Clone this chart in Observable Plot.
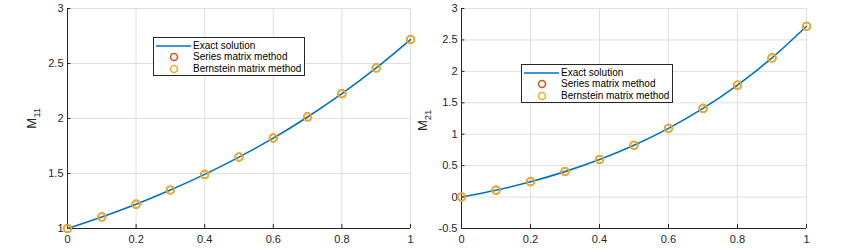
<!DOCTYPE html>
<html>
<head>
<meta charset="utf-8">
<script src="https://cdn.jsdelivr.net/npm/d3@7"></script>
<script src="https://cdn.jsdelivr.net/npm/@observablehq/plot@0.6"></script>
<style>
  body { margin: 0; background: #fff; }
  #wrap { position: relative; width: 852px; height: 250px; font-family: "Liberation Sans", Arial, sans-serif; }
  .panel { position: absolute; top: 0; }
  .ylab { position: absolute; font-family: "Liberation Sans", Arial, sans-serif; font-size: 13px; color: #262626; transform: rotate(-90deg); transform-origin: center; white-space: nowrap; line-height: 14px; }
  .ylab sub { font-family: "Liberation Sans", Arial, sans-serif; font-size: 9.5px; }
  .legend { position: absolute; border: 1px solid #262626; background: #fff; font-size: 10px; color: #000; box-sizing: border-box; font-family: "Liberation Sans", Arial, sans-serif; }
  .legend .row { position: absolute; left: 0; height: 12px; line-height: 12px; white-space: nowrap; }
</style>
</head>
<body>
<div id="wrap"></div>
<script>
// ---- data ----
const xs = [0, 0.1, 0.2, 0.3, 0.4, 0.5, 0.6, 0.7, 0.8, 0.9, 1];
const m11Exact = [1, 1.105, 1.221, 1.35, 1.492, 1.649, 1.822, 2.014, 2.226, 2.46, 2.718];
const m11Series = [1, 1.105, 1.221, 1.35, 1.492, 1.649, 1.822, 2.014, 2.226, 2.46, 2.718];
const m11Bernstein = [1, 1.105, 1.221, 1.35, 1.492, 1.649, 1.822, 2.014, 2.226, 2.46, 2.718];
const m21Exact = [0, 0.11, 0.244, 0.405, 0.597, 0.824, 1.093, 1.41, 1.781, 2.214, 2.718];
const m21Series = [0, 0.11, 0.244, 0.405, 0.597, 0.824, 1.093, 1.41, 1.781, 2.214, 2.718];
const m21Bernstein = [0, 0.11, 0.244, 0.405, 0.597, 0.824, 1.093, 1.41, 1.781, 2.214, 2.718];
const xTicks = [0, 0.2, 0.4, 0.6, 0.8, 1];
const y1Ticks = [1, 1.5, 2, 2.5, 3];
const y2Ticks = [-0.5, 0, 0.5, 1, 1.5, 2, 2.5, 3];
const legendLabels = ["Exact solution", "Series matrix method", "Bernstein matrix method"];
const colors = {exact: "#0072BD", series: "#D95319", bern: "#EDB120"};

const fmt = d => String(d);

function panel({left, width, marginLeft, marginRight, yDomain, yTicks, exact, series, bern}) {
  const rows = ys => xs.map((x, i) => ({x, y: ys[i]}));
  const ymin = yDomain[0];
  const p = Plot.plot({
    width, height: 250,
    marginLeft, marginRight, marginTop: 8, marginBottom: 22,
    style: {fontFamily: "Liberation Sans, Arial, sans-serif", fontSize: "11px", color: "#262626", background: "#fff"},
    x: {domain: [0, 1], ticks: xTicks, tickFormat: fmt, label: null, tickSize: 0, tickPadding: 7},
    y: {domain: yDomain, ticks: yTicks, tickFormat: fmt, label: null, tickSize: 0, tickPadding: 4},
    marks: [
      Plot.gridX(xTicks, {stroke: "#dfdfdf", strokeOpacity: 1}),
      Plot.gridY(yTicks, {stroke: "#dfdfdf", strokeOpacity: 1}),
      Plot.ruleX(xTicks, {y1: ymin, y2: ymin + (yDomain[1]-yDomain[0]) * 0.018, stroke: "#262626"}),
      Plot.ruleY(yTicks, {x1: 0, x2: 0.01, stroke: "#262626"}),
      Plot.ruleX([0], {stroke: "#262626", strokeWidth: 1}),
      Plot.ruleY([ymin], {stroke: "#262626", strokeWidth: 1}),
      Plot.line(rows(exact), {x: "x", y: "y", stroke: colors.exact, strokeWidth: 1.6, curve: "natural"}),
      Plot.dot(rows(series), {x: "x", y: "y", stroke: colors.series, r: 3.8, strokeWidth: 1.6, fill: "none"}),
      Plot.dot(rows(bern), {x: "x", y: "y", stroke: colors.bern, r: 3.8, strokeWidth: 1.6, fill: "none"})
    ]
  });
  p.classList.add("panel");
  p.style.left = left + "px";
  return p;
}

function legend(left, top) {
  const d = document.createElement("div");
  d.className = "legend";
  d.style.left = left + "px"; d.style.top = top + "px";
  d.style.width = "152px"; d.style.height = "39px";
  legendLabels.forEach((lab, i) => {
    const r = document.createElement("div");
    r.className = "row";
    r.style.top = (1.5 + i * 11.7) + "px";
    let sym;
    if (i === 0) sym = `<line x1="2" y1="6" x2="37" y2="6" stroke="${colors.exact}" stroke-width="1.6"/>`;
    else sym = `<circle cx="20" cy="6" r="3.5" fill="none" stroke="${i===1?colors.series:colors.bern}" stroke-width="1.6"/>`;
    r.innerHTML = `<svg width="40" height="12" style="position:absolute;left:0;top:0">${sym}</svg><span style="position:absolute;left:39px;top:0">${lab}</span>`;
    d.appendChild(r);
  });
  return d;
}

function ylabel(html, cx, cy) {
  const d = document.createElement("div");
  d.className = "ylab";
  d.innerHTML = html;
  document.getElementById("wrap").appendChild(d);
  const w = d.offsetWidth, h = d.offsetHeight;
  d.style.left = (cx - w/2) + "px";
  d.style.top = (cy - h/2) + "px";
}

const wrap = document.getElementById("wrap");
wrap.appendChild(panel({left: 0, width: 426, marginLeft: 67, marginRight: 16, yDomain: [1, 3], yTicks: y1Ticks, exact: m11Exact, series: m11Series, bern: m11Bernstein}));
wrap.appendChild(panel({left: 426, width: 426, marginLeft: 35, marginRight: 46, yDomain: [-0.5, 3], yTicks: y2Ticks, exact: m21Exact, series: m21Series, bern: m21Bernstein}));
wrap.appendChild(legend(153, 37));
wrap.appendChild(legend(521, 64));
ylabel("M<sub>11</sub>", 34, 118);
ylabel("M<sub>21</sub>", 425, 120);
</script>
</body>
</html>
